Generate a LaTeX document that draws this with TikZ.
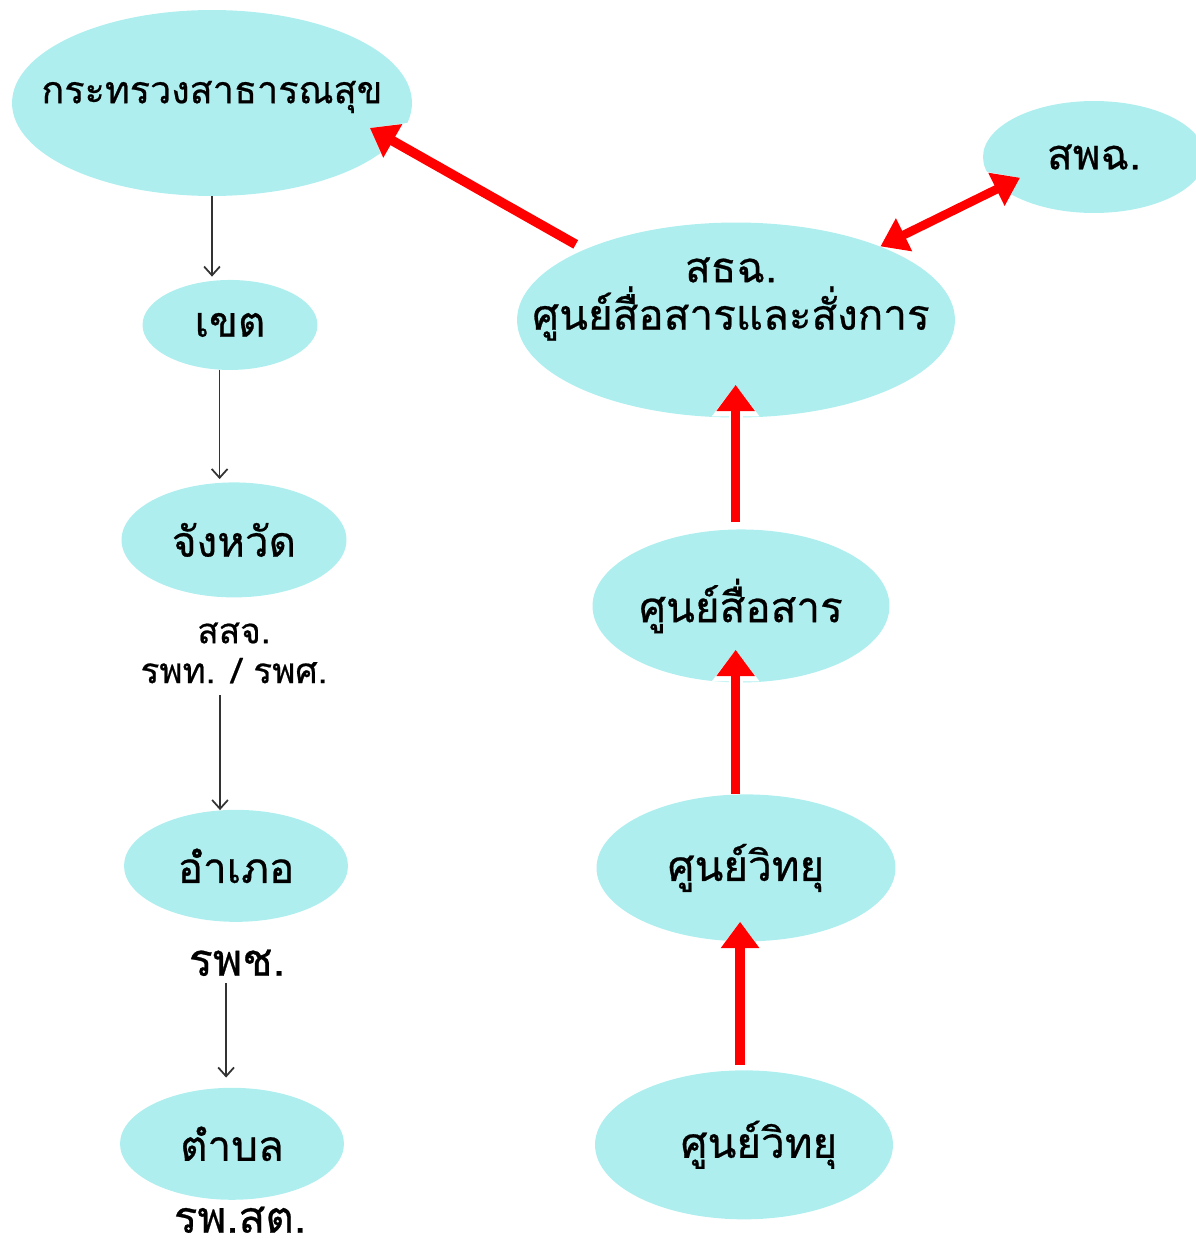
\documentclass[tikz,border=0pt]{standalone}
\usepackage{fontspec}
\usepackage{tikz}
\usetikzlibrary{positioning,shapes.geometric,arrows.meta}
\newfontfamily\thaifont[Script=Thai, FakeBold=0.6]{Loma}
\newcommand{\thaibig}{\thaifont\fontsize{24}{27}\selectfont}
\newcommand{\thaismall}{\thaifont\fontsize{20}{22.7}\selectfont}
\definecolor{bubblecyan}{RGB}{175,238,238}
\definecolor{arrowgrey}{RGB}{51,51,51}

\begin{document}
\begin{tikzpicture}[x=0.02cm, y=-0.02cm,
bubble/.style={ellipse, fill=bubblecyan, inner sep=0pt, font=\thaibig},
tag/.style={align=center, inner sep=1pt},
blackarrow/.style={draw=arrowgrey, line width=1pt, -{Straight Barb[length=5pt,width=9pt]}},
redarrow/.style={draw=red, line width=5.5pt, -{Triangle[length=15pt,width=21pt]},
  preaction={draw=white, line width=8pt, -{Triangle[length=18pt,width=26pt]}}},
redboth/.style={draw=red, line width=5pt, {Triangle[length=15pt,width=20pt]}-{Triangle[length=15pt,width=20pt]},
  preaction={draw=white, line width=7.5pt, {Triangle[length=18pt,width=25pt]}-{Triangle[length=18pt,width=25pt]}}}]
\useasboundingbox (0,0) rectangle (1196,1247);

% left column
\node[bubble, minimum width=8cm, minimum height=3.72cm,
  label={[font=\thaifont\fontsize{21.5}{26}\selectfont, yshift=1.2mm]center:กระทรวงสาธารณสุข}] (moph) at (212,103) {};
\node[bubble, minimum width=3.5cm, minimum height=1.8cm, node distance=4.44cm, below of=moph, xshift=3.6mm] (khet) {เขต};
\node[bubble, minimum width=4.5cm, minimum height=2.3cm, node distance=4.3cm, below of=khet, xshift=0.8mm] (changwat) {จังหวัด};
\node[tag, font=\thaismall, node distance=2.26cm, below of=changwat] (ssj) {สสจ.\\รพท. / รพศ.};
\node[bubble, minimum width=4.48cm, minimum height=2.24cm, node distance=4.26cm, below of=ssj, xshift=0.4mm] (amphoe) {อำเภอ};
\node[tag, font=\thaifont\fontsize{25.5}{28}\selectfont, node distance=1.94cm, below of=amphoe, xshift=0.2mm] (rpch) {รพช.};
\node[bubble, minimum width=4.48cm, minimum height=2.24cm, node distance=3.62cm, below of=rpch, xshift=-1mm] (tambon) {ตำบล};
\node[tag, inner sep=0pt, font=\thaifont\fontsize{25}{28}\selectfont, node distance=1.52cm, below of=tambon, xshift=1.6mm] (rpst) {รพ.สต.};

% right column
\node[bubble, minimum width=8.76cm, minimum height=3.9cm,
  label={[font=\thaibig, align=center, xshift=-1mm, yshift=4.2mm]center:{สธฉ.\\ศูนย์สื่อสารและสั่งการ}}] (sathoch) at (736,320) {};
\node[bubble, minimum width=4.44cm, minimum height=2.24cm] (sapoch) at (1094,157) {สพฉ.};
\node[bubble, minimum width=5.94cm, minimum height=3.06cm, node distance=5.72cm, below of=sathoch, xshift=1mm] (sunsue) {ศูนย์สื่อสาร};
\node[bubble, minimum width=5.98cm, minimum height=2.94cm, node distance=5.24cm, below of=sunsue, xshift=1mm] (radio1) {ศูนย์วิทยุ};
\node[bubble, minimum width=5.96cm, minimum height=2.98cm, node distance=5.54cm, below of=radio1, xshift=-0.4mm,
  label={[font=\thaibig, xshift=3mm]center:ศูนย์วิทยุ}] (radio2) {};

% line of command
\draw[blackarrow, shorten >=0.06cm] (moph.south) -- (moph.south |- khet.north);
\draw[blackarrow, shorten >=0.06cm] (khet.257) -- (khet.257 |- changwat.north);
\draw[blackarrow, shorten <=0.2cm] (amphoe.106 |- ssj.south) -- (amphoe.106);
\draw[blackarrow, shorten <=0.1cm, shorten >=0.2cm] (tambon.96 |- rpch.south) -- (tambon.96);

% reporting
\draw[redarrow, shorten <=0.2cm, shorten >=-0.56cm] (sathoch.155) -- (moph.-12);
\draw[redboth, shorten >=-0.44cm] (sathoch.27) -- (sapoch.198);
\draw[redarrow, shorten <=0.14cm, shorten >=-0.66cm] (sunsue.94) -- (sunsue.94 |- sathoch.south);
\draw[redarrow, shorten >=-0.66cm] (radio1.98) -- (radio1.98 |- sunsue.south);
\draw[redarrow, shorten <=0.1cm, shorten >=-0.4cm] (radio2.93) -- (radio2.93 |- radio1.south);
\end{tikzpicture}
\end{document}
